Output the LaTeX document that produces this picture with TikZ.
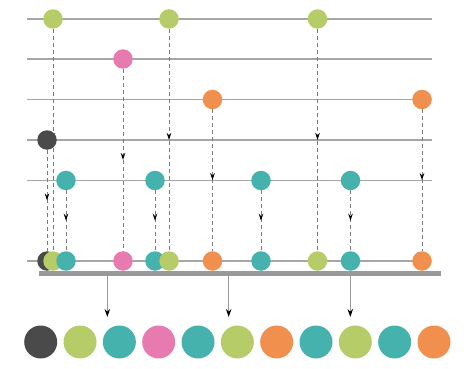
\documentclass[tikz,border=0pt]{standalone}
\usetikzlibrary{arrows.meta, decorations.markings, backgrounds}
\definecolor{dotdark}{HTML}{4A4A4A}
\definecolor{dotgreen}{HTML}{B5CC68}
\definecolor{dotteal}{HTML}{45B2AE}
\definecolor{dotpink}{HTML}{E77AAE}
\definecolor{dotorange}{HTML}{F08F4E}
\definecolor{railgrey}{HTML}{A6A6A6}
\definecolor{bargrey}{HTML}{999999}
\definecolor{dropgrey}{HTML}{7A7A7A}
\tikzset{
  dot/.style={circle, fill=#1, inner sep=0pt, minimum size=19.5pt},
  bigdot/.style={circle, fill=#1, inner sep=0pt, minimum size=33pt},
  rail/.style={railgrey, line width=1.3pt},
  drop/.style={dropgrey, line width=1pt, dash pattern=on 4pt off 3pt,
    postaction={decorate, decoration={markings,
      mark=at position 0.5 with {\arrow[black]{Stealth[length=7pt,width=4.5pt]}}}}},
  feed/.style={bargrey, line width=1.1pt, -{Stealth[length=8pt,width=5.5pt,black]}}
}
\begin{document}
\begin{tikzpicture}[x=1pt, y=-1pt]
\useasboundingbox (0,0) rectangle (474,369);
% source streams
\foreach \n/\x/\y/\c in {g1/53/19/dotgreen, g2/169/19/dotgreen, g3/317.5/19/dotgreen,
    p1/123/59/dotpink, o1/212.5/99.5/dotorange, o2/422/99.5/dotorange,
    d1/47/140/dotdark, t1/66/180.5/dotteal, t2/155/180.5/dotteal,
    t3/261/180.5/dotteal, t4/350.5/180.5/dotteal}
  \node[dot=\c] (\n) at (\x,\y) {};
% merged stream
\foreach \n/\x/\c in {d1/47/dotdark, g1/53/dotgreen, t1/66/dotteal, p1/123/dotpink,
    t2/155/dotteal, g2/169/dotgreen, o1/212.5/dotorange, t3/261/dotteal,
    g3/317.5/dotgreen, t4/350.5/dotteal, o2/422/dotorange}
  \node[dot=\c] (b\n) at (\x,261) {};
\begin{pgfonlayer}{background}
\foreach \y in {19,59,99.5,140,180.5}
  \draw[rail] (27,\y) -- (432,\y);
\draw[rail] (27,261) -- (422,261);
\foreach \n in {g1,g2,g3,p1,o1,o2,d1,t1,t2,t3,t4}
  \draw[drop] (\n) -- (b\n);
\end{pgfonlayer}
\node[fill=bargrey, inner sep=0pt, minimum width=402pt, minimum height=4.5pt] (bar) at (240,273.7) {};
% output
\foreach \c [count=\i] in {dotdark, dotgreen, dotteal, dotpink, dotteal, dotgreen,
    dotorange, dotteal, dotgreen, dotteal, dotorange}
  \node[bigdot=\c] (s\i) at ({40.7+39.33*(\i-1)},342) {};
\coordinate (f1) at (107.3,317);
\coordinate (f2) at (228.7,317);
\coordinate (f3) at (350.3,317);
\foreach \f in {f1,f2,f3}
  \draw[feed] (bar.south -| \f) -- (\f);
\end{tikzpicture}
\end{document}
